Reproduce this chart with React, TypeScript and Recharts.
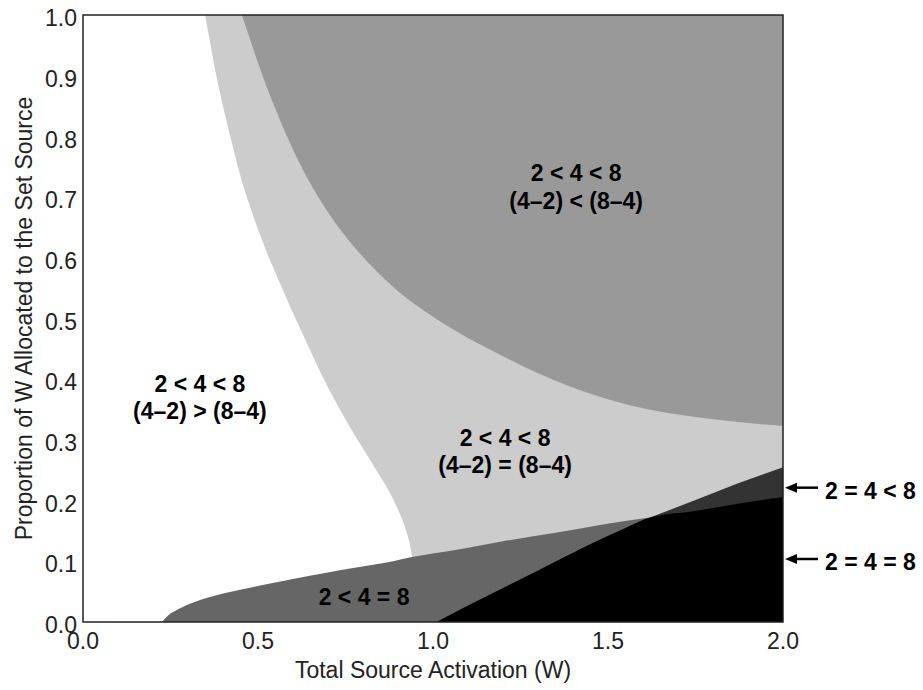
import { ComposedChart, Area, XAxis, YAxis, ReferenceArea, ReferenceDot } from 'recharts'

const FONT = '"Liberation Sans", Arial, Helvetica, sans-serif'

const xTicks = [0, 0.5, 1, 1.5, 2]
const yTicks = [0, 0.1, 0.2, 0.3, 0.4, 0.5, 0.6, 0.7, 0.8, 0.9, 1]

// light grey band, (4-2) = (8-4): its lower edge is where the white region stops
const equalX = [0.349, 0.381, 0.421, 0.453, 0.484, 0.519, 0.559, 0.6, 0.644, 0.689, 0.735, 0.785, 0.833, 0.887, 0.922, 0.935, 0.94, 0.95, 2.0]
const equalLow = [1.0, 0.9, 0.8, 0.728, 0.673, 0.618, 0.563, 0.509, 0.454, 0.399, 0.349, 0.3, 0.255, 0.201, 0.152, 0.125, 0.108, 0, 0]

// dark grey region, (4-2) < (8-4): lower edge
const lessX = [0.454, 0.48, 0.51, 0.55, 0.6, 0.65, 0.7, 0.76, 0.83, 0.9, 1.0, 1.1, 1.2, 1.3, 1.45, 1.6, 1.8, 2.0]
const lessLow = [1.0, 0.955, 0.905, 0.845, 0.778, 0.722, 0.675, 0.628, 0.583, 0.545, 0.503, 0.468, 0.438, 0.41, 0.376, 0.352, 0.334, 0.323]

// 2 < 4 = 8
const fourEightX = [0.226, 0.24, 0.269, 0.315, 0.41, 0.506, 0.6, 0.696, 0.763, 0.886, 0.94, 1.077, 1.2, 1.35, 1.477, 1.62]
const fourEightTop = [0, 0.009, 0.02, 0.032, 0.048, 0.06, 0.071, 0.081, 0.088, 0.1, 0.107, 0.12, 0.133, 0.147, 0.16, 0.172]

// 2 = 4 < 8
const twoFourX = [1.62, 1.75, 1.87, 2.0]
const twoFourTop = [0.172, 0.201, 0.228, 0.255]

// 2 = 4 = 8
const allEqX = [1.01, 1.1, 1.2, 1.3, 1.4, 1.477, 1.55, 1.62, 1.75, 1.87, 2.0]
const allEqTop = [0, 0.027, 0.056, 0.085, 0.114, 0.136, 0.155, 0.172, 0.183, 0.195, 0.206]

const regionLabels = [
  { x: 1.409, y: 0.7265, lines: ['2 < 4 < 8', '(4–2) < (8–4)'] },
  { x: 0.334, y: 0.379, lines: ['2 < 4 < 8', '(4–2) > (8–4)'] },
  { x: 1.206, y: 0.29, lines: ['2 < 4 < 8', '(4–2) = (8–4)'] },
  { x: 0.803, y: 0.028, lines: ['2 < 4 = 8'] },
]

const sideNotes = [
  { y: 0.2213, text: '2 = 4 < 8' },
  { y: 0.1038, text: '2 = 4 = 8' },
]

const equalData = equalX.map((x, i) => ({ x, band: [equalLow[i], 1] }))
const lessData = lessX.map((x, i) => ({ x, band: [lessLow[i], 1] }))
const fourEightData = fourEightX.map((x, i) => ({ x, top: fourEightTop[i] }))
const twoFourData = twoFourX.map((x, i) => ({ x, top: twoFourTop[i] }))
const allEqData = allEqX.map((x, i) => ({ x, top: allEqTop[i] }))

function RegionText(props: any) {
  const { viewBox, lines } = props
  const cx = viewBox.x + (viewBox.width || 0) / 2
  const cy = viewBox.y + (viewBox.height || 0) / 2
  return (
    <text x={cx} y={cy} textAnchor="middle" fontSize={23} fontWeight="bold" fill="#000" fontFamily={FONT}>
      {lines.map((line: string, i: number) => (
        <tspan key={i} x={cx} dy={i === 0 ? 0 : 27.5}>
          {line}
        </tspan>
      ))}
    </text>
  )
}

function SideNote(props: any) {
  const { viewBox, text } = props
  const x = viewBox.x + (viewBox.width || 0) / 2
  const y = viewBox.y + (viewBox.height || 0) / 2
  return (
    <g>
      <line x1={x + 10} y1={y} x2={x + 35} y2={y} stroke="#000" strokeWidth={2.5} />
      <polygon points={`${x + 2},${y} ${x + 14},${y - 5} ${x + 14},${y + 5}`} fill="#000" />
      <text x={x + 42} y={y + 11} fontSize={23} fontWeight="bold" fill="#000" fontFamily={FONT}>
        {text}
      </text>
    </g>
  )
}

const tickStyle = { fill: '#222', fontSize: 23, fontFamily: FONT }

export default function App() {
  return (
    <div style={{ position: 'absolute', left: 0, top: 0, background: '#fff', fontFamily: FONT }}>
      <ComposedChart width={923} height={690} margin={{ top: 15, right: 140, bottom: 0, left: 0 }}>
        <XAxis
          type="number"
          dataKey="x"
          domain={[0, 2]}
          ticks={xTicks}
          tickFormatter={(v: number) => v.toFixed(1)}
          height={68}
          axisLine={false}
          tickLine={false}
          tickMargin={5}
          tick={tickStyle}
          allowDataOverflow
          label={{
            value: 'Total Source Activation (W)',
            position: 'insideBottom',
            offset: 12,
            style: { fill: '#222', fontSize: 23, fontFamily: FONT },
          }}
        />
        <YAxis
          type="number"
          domain={[0, 1]}
          ticks={yTicks}
          tickFormatter={(v: number) => v.toFixed(1)}
          width={83}
          axisLine={false}
          tickLine={false}
          tickMargin={0}
          tick={{ ...tickStyle, dy: 3 }}
          allowDataOverflow
          label={{
            value: 'Proportion of W Allocated to the Set Source',
            angle: -90,
            position: 'insideLeft',
            offset: 24,
            style: { fill: '#222', fontSize: 23, fontFamily: FONT, textAnchor: 'middle' },
          }}
        />
        <Area data={equalData} dataKey="band" type="monotone" stroke="none" fill="#cccccc" fillOpacity={1} dot={false} activeDot={false} isAnimationActive={false} />
        <Area data={lessData} dataKey="band" type="monotone" stroke="none" fill="#999999" fillOpacity={1} dot={false} activeDot={false} isAnimationActive={false} />
        <Area data={fourEightData} dataKey="top" type="monotone" stroke="none" fill="#666666" fillOpacity={1} dot={false} activeDot={false} isAnimationActive={false} />
        <Area data={twoFourData} dataKey="top" type="monotone" stroke="none" fill="#333333" fillOpacity={1} dot={false} activeDot={false} isAnimationActive={false} />
        <Area data={allEqData} dataKey="top" type="monotone" stroke="none" fill="#000000" fillOpacity={1} dot={false} activeDot={false} isAnimationActive={false} />
        <ReferenceArea x1={0} x2={2} y1={0} y2={1} fill="none" stroke="#222" strokeWidth={1.5} />
        {regionLabels.map((l, i) => (
          <ReferenceDot
            key={'r' + i}
            x={l.x}
            y={l.y}
            r={0}
            stroke="none"
            fill="none"
            label={{ content: (p: any) => <RegionText {...p} lines={l.lines} /> }}
          />
        ))}
        {sideNotes.map((n, i) => (
          <ReferenceDot
            key={'s' + i}
            x={2}
            y={n.y}
            r={0}
            stroke="none"
            fill="none"
            label={{ content: (p: any) => <SideNote {...p} text={n.text} /> }}
          />
        ))}
      </ComposedChart>
    </div>
  )
}
